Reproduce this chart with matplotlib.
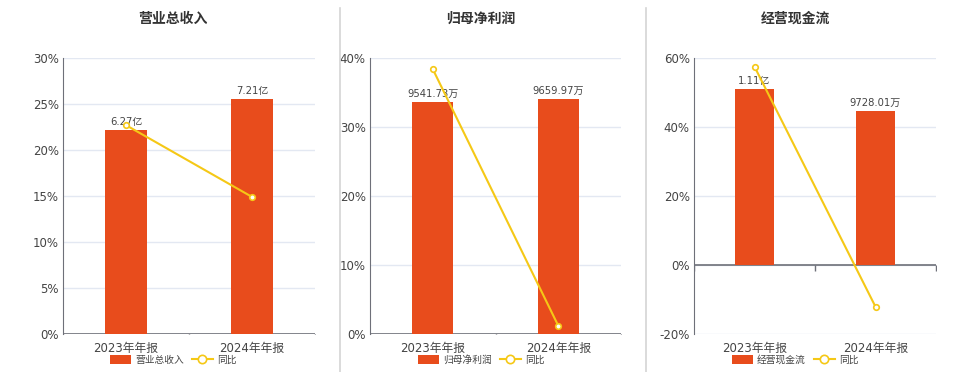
import matplotlib
matplotlib.use("Agg")
import matplotlib.pyplot as plt
from matplotlib.patches import Patch
from matplotlib.lines import Line2D
from matplotlib.ticker import FuncFormatter

plt.rcParams['font.family'] = ['DejaVu Sans', 'Noto Sans CJK SC']

# data
categories = ['2023年年报', '2024年年报']
titles = ['营业总收入', '归母净利润', '经营现金流']
bar_names = ['营业总收入', '归母净利润', '经营现金流']
# bar values (营业总收入 in 亿, others in 万)
revenue = [6.27, 7.21]
net_profit = [9541.73, 9659.97]
cash_flow = [11100.0, 9728.01]
revenue_labels = ['6.27亿', '7.21亿']
net_profit_labels = ['9541.73万', '9659.97万']
cash_flow_labels = ['1.11亿', '9728.01万']
# 同比 (%)
revenue_yoy = [22.7, 14.9]
net_profit_yoy = [38.4, 1.2]
cash_flow_yoy = [57.5, -12.1]

BAR = '#e84c1c'
LINE = '#f5c816'
AXIS = '#6e7079'
GRID = '#e3e8f2'
TXT = '#444444'

W, H = 960, 372
fig = plt.figure(figsize=(W / 100, H / 100), dpi=100)

panels = [
    dict(left=63, right=315, center=173, vals=revenue, labels=revenue_labels, yoy=revenue_yoy,
         ylim=(0, 30), step=5, blim=(0, 8.47)),
    dict(left=370, right=621, center=481, vals=net_profit, labels=net_profit_labels, yoy=net_profit_yoy,
         ylim=(0, 40), step=10, blim=(0, 11345)),
    dict(left=694, right=936, center=795, vals=cash_flow, labels=cash_flow_labels, yoy=cash_flow_yoy,
         ylim=(-20, 60), step=20, blim=(-4377, 13074)),
]
top, bottom = 58, 334

x = list(range(len(categories)))
for i, p in enumerate(panels):
    rect = [p['left'] / W, (H - bottom) / H, (p['right'] - p['left']) / W, (bottom - top) / H]
    ax = fig.add_axes(rect)
    ax.set_zorder(0)
    lo, hi = p['ylim']
    ax.set_ylim(lo, hi)
    ax.set_xlim(-0.5, 1.5)
    ax.set_yticks(list(range(lo, hi + 1, p['step'])))
    ax.yaxis.set_major_formatter(FuncFormatter(lambda v, _: f'{v:.0f}%'))
    ax.grid(axis='y', color=GRID, lw=1)
    ax.set_axisbelow(True)
    for s in ['top', 'right', 'bottom']:
        ax.spines[s].set_visible(False)
    ax.spines['left'].set_color(AXIS)
    ax.tick_params(axis='y', length=0, pad=3, labelsize=8.5, labelcolor=TXT)
    ax.set_xticks(x)
    ax.set_xticklabels(categories)
    ax.tick_params(axis='x', length=0, pad=6, labelsize=8.5, labelcolor=TXT)
    # zero line with boundary ticks
    ax.axhline(0, color=AXIS, lw=1.2)
    ax.plot([-0.5, 0.5, 1.5], [0, 0, 0], ls='none', marker=3, ms=4, color=AXIS, mew=1)

    axb = ax.twinx()
    axb.set_zorder(1)
    axb.patch.set_visible(False)
    axb.set_ylim(*p['blim'])
    axb.axis('off')
    axb.bar(x, p['vals'], width=0.33, color=BAR)
    for xi, v, lab in zip(x, p['vals'], p['labels']):
        axb.annotate(lab, (xi, v), xytext=(0, 2), textcoords='offset points',
                     ha='center', va='bottom', fontsize=7.2, color=TXT)

    axl = ax.twinx()
    axl.set_zorder(2)
    axl.patch.set_visible(False)
    axl.set_ylim(lo, hi)
    axl.axis('off')
    axl.plot(x, p['yoy'], color=LINE, lw=1.5, marker='o', ms=4, mfc='white', mec=LINE, mew=1.2)

    fig.text(p['center'] / W, 1 - 19 / H, titles[i], ha='center', va='center',
             fontsize=10, fontweight='bold', color='#333333')

    handles = [Patch(facecolor=BAR, edgecolor='none'),
               Line2D([], [], color=LINE, lw=1.5, marker='o', ms=6, mfc='white', mec=LINE, mew=1.2)]
    ax.legend(handles, [bar_names[i], '同比'], loc='center', ncol=2, frameon=False,
              bbox_to_anchor=(p['center'] / W, 1 - 360 / H), bbox_transform=fig.transFigure,
              fontsize=7, handlelength=2.2, handleheight=1.0, handletextpad=0.4,
              columnspacing=0.8, labelcolor=TXT)

for xs in [339.5, 645.5]:
    fig.add_artist(Line2D([xs / W, xs / W], [0, 1 - 8 / H], transform=fig.transFigure,
                          color='#d4d4d4', lw=1.2))

fig.savefig('out.png', dpi=100)
